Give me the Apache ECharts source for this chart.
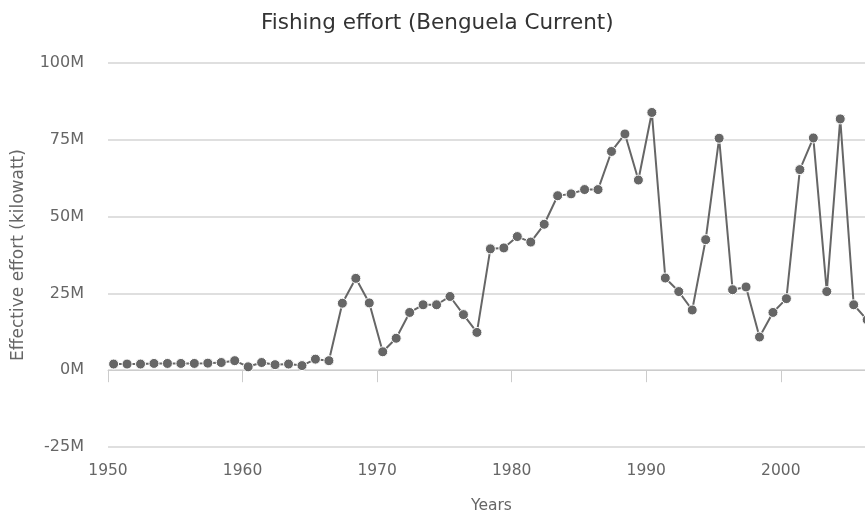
<!DOCTYPE html>
<html>
<head>
<meta charset="utf-8">
<script src="https://cdn.jsdelivr.net/npm/echarts@6/dist/echarts.min.js"></script>
<style>html,body{margin:0;padding:0;background:#fff;overflow:hidden}#chart{width:865px;height:515px}</style>
</head>
<body>
<div id="chart"></div>
<script>
var title = 'Fishing effort (Benguela Current)';
var xAxisName = 'Years';
var yAxisName = 'Effective effort (kilowatt)';
var years = [1950,1951,1952,1953,1954,1955,1956,1957,1958,1959,
             1960,1961,1962,1963,1964,1965,1966,1967,1968,1969,
             1970,1971,1972,1973,1974,1975,1976,1977,1978,1979,
             1980,1981,1982,1983,1984,1985,1986,1987,1988,1989,
             1990,1991,1992,1993,1994,1995,1996,1997,1998,1999,
             2000,2001,2002,2003,2004,2005,2006];
// effective effort in millions of kilowatt
var effortM = [2.0,2.0,2.0,2.2,2.2,2.2,2.2,2.3,2.5,3.1,
               1.1,2.5,1.8,2.0,1.5,3.6,3.1,21.8,29.9,21.9,
               6.0,10.4,18.8,21.3,21.3,24.0,18.1,12.3,39.5,39.8,
               43.5,41.7,47.5,56.8,57.4,58.8,58.8,71.2,76.9,61.9,
               83.9,30.0,25.6,19.6,42.5,75.5,26.2,27.1,10.8,18.8,
               23.3,65.3,75.6,25.6,81.8,21.3,16.4];
var yTicks = [-25e6, 0, 25e6, 50e6, 75e6, 100e6];
var xTicks = [1950, 1960, 1970, 1980, 1990, 2000];
var xMax = 2007;
// observations are dated at June 1st of each year
var midYearOffset = 5 / 12;

var data = years.map(function (y, i) { return [y + midYearOffset, effortM[i] * 1e6]; });
var font = 'DejaVu Sans';
var chart = echarts.init(document.getElementById('chart'));
chart.setOption({
  animation: false,
  backgroundColor: '#fff',
  title: {
    text: title, left: 256, top: 7,
    textStyle: { fontFamily: font, fontSize: 21.5, fontWeight: 'normal', color: '#333' }
  },
  grid: { left: 108, width: 767, top: 63, bottom: 68, outerBoundsMode: 'none', containLabel: false },
  xAxis: {
    type: 'value', min: xTicks[0], max: xMax, interval: 10,
    name: xAxisName, nameLocation: 'middle', nameGap: 51,
    nameTextStyle: { fontFamily: font, fontSize: 15.5, color: '#666' },
    axisLine: { show: true, lineStyle: { color: '#ccc', width: 1 } },
    axisTick: { show: true, length: 12, lineStyle: { color: '#ccc' } },
    axisLabel: { showMaxLabel: false, margin: 16, fontFamily: font, fontSize: 15.5, color: '#666',
      formatter: function (v) { return String(Math.round(v)); } },
    splitLine: { show: false }
  },
  yAxis: {
    type: 'value', min: yTicks[0], max: yTicks[yTicks.length - 1], interval: 25e6,
    name: yAxisName, nameLocation: 'middle', nameGap: 81, nameRotate: 90,
    nameTextStyle: { fontFamily: font, fontSize: 17, color: '#666' },
    axisLine: { show: false }, axisTick: { show: false },
    axisLabel: { margin: 24, fontFamily: font, fontSize: 16, color: '#666',
      formatter: function (v) { return (v / 1e6) + 'M'; } },
    splitLine: { show: true, lineStyle: { color: '#d4d4d4', width: 1.5 } }
  },
  series: [{
    type: 'line', data: data,
    symbol: 'circle', symbolSize: 10,
    lineStyle: { color: '#666', width: 2 },
    itemStyle: { color: '#666', borderColor: '#fff', borderWidth: 1 }
  }]
});
</script>
</body>
</html>
